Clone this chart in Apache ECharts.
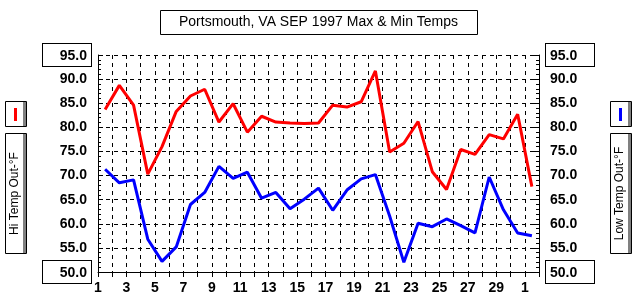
<!DOCTYPE html>
<html>
<head>
<meta charset="utf-8">
<script src="https://cdn.jsdelivr.net/npm/echarts@6/dist/echarts.min.js"></script>
<style>
html,body{margin:0;padding:0;background:#fff;}
#c{width:634px;height:300px;}
</style>
</head>
<body>
<div id="c"></div>
<script>
// ---- data ----
const titleText = 'Portsmouth, VA SEP 1997 Max & Min Temps';
const days = [1,2,3,4,5,6,7,8,9,10,11,12,13,14,15,16,17,18,19,20,21,22,23,24,25,26,27,28,29,30,31];
const hiTemps = [83.7, 88.7, 84.6, 70.3, 76.0, 83.3, 86.5, 87.9, 81.1, 84.9, 79.0, 82.3, 81.1, 80.9, 80.8,
                 80.9, 84.6, 84.2, 85.3, 91.7, 74.9, 76.7, 81.2, 70.8, 67.1, 75.4, 74.4, 78.5, 77.6, 82.7, 67.7];
const loTemps = [71.3, 68.5, 69.1, 56.8, 52.2, 55.2, 64.0, 66.5, 71.9, 69.4, 70.7, 65.3, 66.5, 63.1, 65.1,
                 67.4, 62.8, 67.0, 69.3, 70.2, 61.6, 52.0, 60.1, 59.4, 61.0, 59.6, 58.1, 69.7, 62.9, 58.1, 57.5];
// tick labels at day boundaries 1..32 (31 => Oct 1)
const xTickLabels = ['1','','3','','5','','7','','9','','11','','13','','15','','17','','19','','21','','23','','25','','27','','29','','1',''];
const yBoxedTicks = [95, 50];
const hiName = 'Hi Temp Out-°F';
const loName = 'Low Temp Out-°F';

// each daily reading drawn at mid-day
const noon = 0.5;
const hiData = days.map((d, i) => [d + noon, hiTemps[i]]);
const loData = days.map((d, i) => [d + noon, loTemps[i]]);

const chart = echarts.init(document.getElementById('c'), null, {renderer: 'canvas'});

const labelFont = {fontFamily: 'Liberation Sans, Arial, sans-serif', fontWeight: 'bold', fontSize: 14, color: '#000'};

function yFormatter(v) {
  const s = v.toFixed(1);
  return yBoxedTicks.indexOf(v) >= 0 ? '{box|' + s + '}' : '{n|' + s + '}';
}

function yAxisCfg(pos) {
  const left = pos === 'left';
  return {
    type: 'value', position: pos, min: 50, max: 95, interval: 5,
    axisLine: {show: true, lineStyle: {color: '#000', width: 1}},
    axisTick: {show: true, inside: true, length: 5, lineStyle: {color: '#000'}},
    minorTick: {show: true, splitNumber: 5, length: 3, lineStyle: {color: '#000'}},
    splitLine: {show: left, lineStyle: {color: '#000', type: [4, 4], width: 1}},
    axisLabel: {
      margin: 7,
      formatter: yFormatter,
      rich: {
        n: Object.assign({}, labelFont, {padding: left ? [0, 4, 0, 0] : [0, 0, 0, 4]}),
        box: Object.assign({}, labelFont, {
          width: 40, height: 16, align: left ? 'right' : 'left',
          borderColor: '#000', borderWidth: 1, backgroundColor: '#fff',
          padding: [4, 4, 2, 4]
        })
      }
    }
  };
}

const option = {
  backgroundColor: '#fff',
  animation: false,
  grid: {left: 98, right: 95, top: 55, bottom: 28},
  xAxis: {
    type: 'value', min: 1, max: 32, interval: 1,
    axisLine: {show: true, onZero: false, lineStyle: {color: '#000', width: 1}},
    axisTick: {show: true, length: 5, lineStyle: {color: '#000'}},
    splitLine: {show: true, lineStyle: {color: '#000', type: [4, 4], width: 1}},
    axisLabel: Object.assign({}, labelFont, {
      margin: 9, showMinLabel: true, showMaxLabel: true,
      formatter: v => xTickLabels[Math.round(v) - 1] || ''
    })
  },
  yAxis: [yAxisCfg('left'), yAxisCfg('right')],
  series: [
    {name: hiName, type: 'line', yAxisIndex: 0, data: hiData, showSymbol: false,
     lineStyle: {color: '#ff0000', width: 3}, itemStyle: {color: '#ff0000'}, z: 3},
    {name: loName, type: 'line', yAxisIndex: 1, data: loData, showSymbol: false,
     lineStyle: {color: '#0000ff', width: 3}, itemStyle: {color: '#0000ff'}, z: 3}
  ],
  graphic: [
    // title box
    {type: 'rect', left: 160, top: 10, shape: {width: 317, height: 24},
     style: {fill: '#fff', stroke: '#000', lineWidth: 1}},
    {type: 'text', x: 318.5, y: 22.5,
     style: {text: titleText, fill: '#000', font: '14px "Liberation Sans", Arial, sans-serif',
             align: 'center', verticalAlign: 'middle'}},
    // left legend: swatch box
    {type: 'rect', shape: {x: 5.5, y: 101.5, width: 21, height: 25}, style: {fill: '#fff', stroke: '#000', lineWidth: 1}},
    {type: 'rect', shape: {x: 23, y: 102, width: 3, height: 24}, style: {fill: '#808080'}},
    {type: 'rect', shape: {x: 14, y: 108, width: 3, height: 13}, style: {fill: '#ff0000'}},
    // left legend: name box
    {type: 'rect', shape: {x: 5.5, y: 133.5, width: 21, height: 120}, style: {fill: '#fff', stroke: '#000', lineWidth: 1}},
    {type: 'rect', shape: {x: 23, y: 134, width: 3, height: 119}, style: {fill: '#808080'}},
    {type: 'text', x: 15, y: 193.5, rotation: Math.PI / 2,
     style: {text: hiName, fill: '#000', font: '12px "Liberation Sans", Arial, sans-serif',
             align: 'center', verticalAlign: 'middle'}},
    // right legend: swatch box
    {type: 'rect', shape: {x: 610.5, y: 101.5, width: 21, height: 25}, style: {fill: '#fff', stroke: '#000', lineWidth: 1}},
    {type: 'rect', shape: {x: 628, y: 102, width: 3, height: 24}, style: {fill: '#808080'}},
    {type: 'rect', shape: {x: 619, y: 108, width: 3, height: 13}, style: {fill: '#0000ff'}},
    // right legend: name box
    {type: 'rect', shape: {x: 610.5, y: 133.5, width: 21, height: 120}, style: {fill: '#fff', stroke: '#000', lineWidth: 1}},
    {type: 'rect', shape: {x: 628, y: 134, width: 3, height: 119}, style: {fill: '#808080'}},
    {type: 'text', x: 620, y: 193.5, rotation: Math.PI / 2,
     style: {text: loName, fill: '#000', font: '12px "Liberation Sans", Arial, sans-serif',
             align: 'center', verticalAlign: 'middle'}}
  ]
};

chart.setOption(option);
</script>
</body>
</html>
